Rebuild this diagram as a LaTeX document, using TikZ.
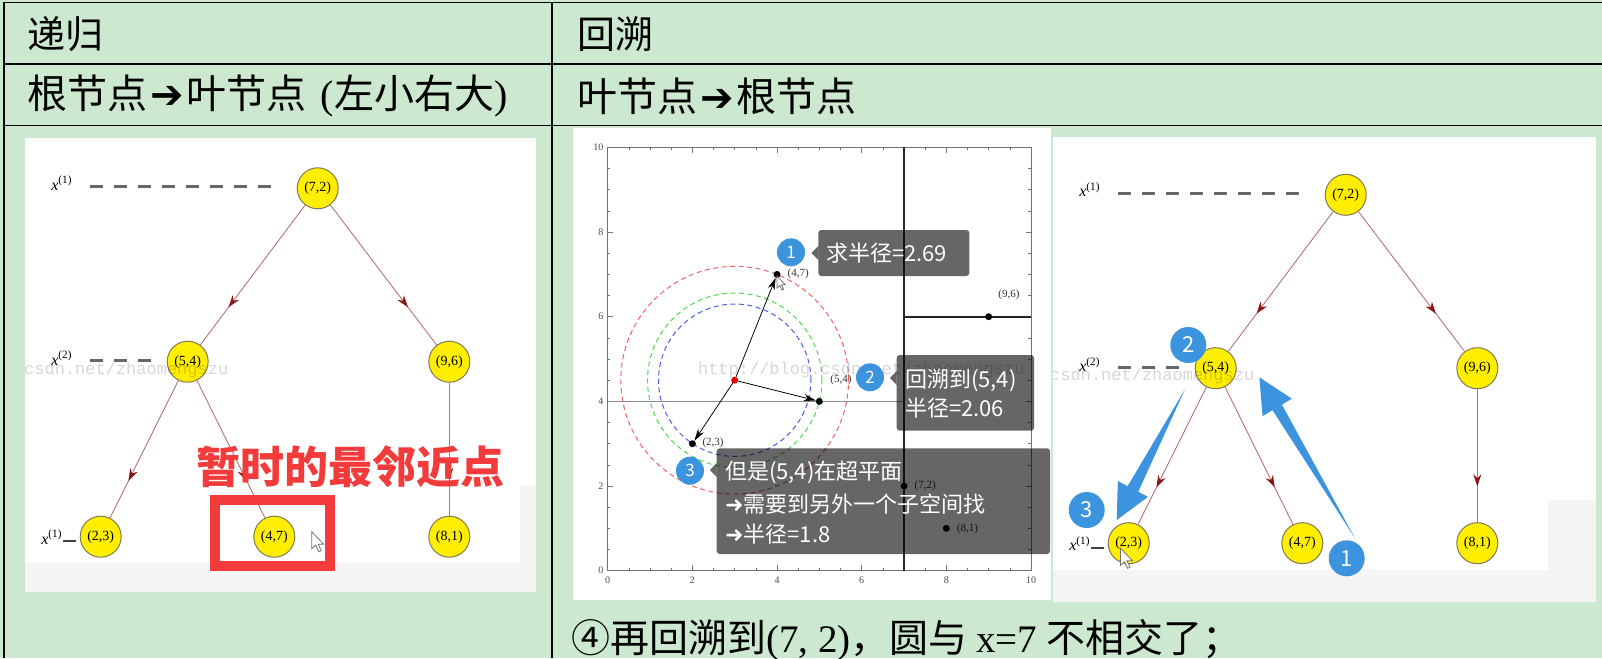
\documentclass[tikz,border=0pt]{standalone}
\usepackage{fontspec}
\setmainfont{Liberation Serif}
\newfontfamily\cjk{Noto Sans CJK SC}
\newfontfamily\djv{DejaVu Sans}
\newfontfamily\monof{Liberation Mono}
\usetikzlibrary{arrows.meta,decorations.markings}

\definecolor{tblgreen}{HTML}{CCE8CF}
\definecolor{nodeyellow}{HTML}{FFEE00}
\definecolor{nodeborder}{HTML}{7F7A55}
\definecolor{edgecol}{HTML}{B87470}
\definecolor{arrowred}{HTML}{8B1414}
\definecolor{hotred}{HTML}{F33B3B}
\definecolor{bubble}{HTML}{3C94DE}
\definecolor{graybg}{HTML}{F5F5F5}
\definecolor{cred}{HTML}{F06464}
\definecolor{cgreen}{HTML}{55D655}
\definecolor{cblue}{HTML}{4A5EE6}

\newcommand\kdtree[1]{%
  \node[kd] (#1a) at (317.7,188.3) {(7,2)};
  \node[kd] (#1b) at (187.7,361.7) {(5,4)};
  \node[kd] (#1c) at (449.3,361.7) {(9,6)};
  \node[kd] (#1d) at (100.7,536.7) {(2,3)};
  \node[kd] (#1e) at (274.3,536.7) {(4,7)};
  \node[kd] (#1f) at (449.3,536.7) {(8,1)};
  \draw[kdedge] (#1a) -- (#1b);
  \draw[kdedge] (#1a) -- (#1c);
  \draw[kdedge] (#1b) -- (#1d);
  \draw[kdedge] (#1b) -- (#1e);
  \draw[kdedge] (#1c) -- (#1f);
  \node[xlab] (#1l1) at (61.7,183) {{\itshape x}\textsuperscript{(1)}};
  \draw[levdash] (90,186.7) -- (275,186.7);
  \node[xlab] (#1l2) at (61.7,358) {{\itshape x}\textsuperscript{(2)}};
  \draw[levdash] (90,360.7) -- (152,360.7);
  \node[xlab] (#1l3) at (51.7,537) {{\itshape x}\textsuperscript{(1)}};
  \draw[line width=2pt, black!75] (63,541) -- (76,541);
}
\newcommand\mousecur[2]{%
  \draw[fill=white, draw=black!55, line width=0.8pt, shift={(#1)}, scale=#2]
    (0,0) -- (0,17) -- (4,13.5) -- (7,20) -- (9.5,19) -- (6.5,12.5) -- (12,12.5) -- cycle;}

\begin{document}
\begin{tikzpicture}[x=1pt,y=-1pt,
  kd/.style={circle, fill=nodeyellow, draw=nodeborder, line width=1pt, minimum size=41pt, inner sep=0pt, font=\fontsize{14}{14}\selectfont},
  kdedge/.style={draw=edgecol, line width=0.9pt, postaction={decorate},
     decoration={markings, mark=at position 0.73 with {\arrow{Stealth[length=12pt,width=8pt,color=arrowred]}}}},
  levdash/.style={draw=black!60, line width=3pt, dash pattern=on 13pt off 11pt},
  xlab/.style={inner sep=0pt, font=\fontsize{16}{16}\selectfont},
  wm/.style={inner sep=0pt, font=\monof\fontsize{17}{17}\selectfont, text=black, text opacity=0.16},
  hdr/.style={inner sep=0pt, anchor=west, font=\cjk\fontsize{38}{40}\selectfont},
  hdrb/.style={inner sep=0pt, anchor=west, font=\cjk\fontsize{40}{42}\selectfont},
  ticklab/.style={inner sep=0pt, font=\fontsize{10}{10}\selectfont, text=black!70},
  plab/.style={inner sep=0pt, font=\fontsize{11}{11}\selectfont, text=black!80},
  pt/.style={circle, fill=black, minimum size=7pt, inner sep=0pt},
  dcirc/.style={line width=1pt, dash pattern=on 5pt off 3.5pt},
  callout/.style={fill=black, fill opacity=0.6},
  ctext/.style={inner sep=0pt, anchor=west, text=white, font=\cjk\fontsize{22}{26}\selectfont},
  bub/.style={circle, fill=bubble, inner sep=0pt, text=white, font=\cjk\fontsize{#1}{#1}\selectfont},
  bluearrow/.style={fill=bubble}
]
\useasboundingbox (0,0) rectangle (1602,658);
\fill[tblgreen] (0,0) rectangle (1602,658);

% table rules
\draw[line width=1.5pt] (4,2.5) -- (1602,2.5);
\draw[line width=1.5pt] (4,64) -- (1602,64);
\draw[line width=1.5pt] (4,125.5) -- (1602,125.5);
\draw[line width=1.5pt] (4,2.5) -- (4,658);
\draw[line width=1.5pt] (552,2.5) -- (552,658);

% header texts
\node[hdr] (h1) at (27,34) {递归};
\node[hdr] (h2) at (577,34) {回溯};
\node[hdrb] (r1) at (27,96) {根节点\hspace{3pt}{\djv ➔}\hspace{3pt}叶节点\hspace{14pt}{\rmfamily(}左小右大{\rmfamily)}};
\node[hdrb] (r2) at (577,96) {叶节点\hspace{3pt}{\djv ➔}\hspace{3pt}根节点};
\node[inner sep=0pt, anchor=west, font=\cjk\fontsize{39}{41}\selectfont] (bt) at (571,640) {④再回溯到{\rmfamily(7, 2)}，圆与 {\rmfamily x=7} 不相交了；};

% ---------- left image ----------
\fill[white] (25,138) rectangle (536,592);
\fill[graybg] (25,563) rectangle (536,592);
\fill[graybg] (520,485) rectangle (536,563);
\kdtree{L}
\begin{scope}
  \clip (25,138) rectangle (536,592);
  \node[wm, anchor=west] (Lwm) at (24,370) {csdn.net/zhaomengszu};
\end{scope}
\node[inner sep=0pt, text=hotred, font=\cjk\bfseries\fontsize{44}{44}\selectfont] (tmp) at (350,466.7) {暂时的最邻近点};
\draw[hotred, line width=10pt] (215,500) rectangle (330,565.7);
\mousecur{311.7,531.7}{1}

% ---------- plot image ----------
\fill[white] (573,128) rectangle (1051,600);
\begin{scope}[shift={(607.7,570.7)}, x=42.33pt, y=42.33pt]
  \draw[black!55, line width=0.8pt] (0,0) rectangle (10,10);
  \foreach \i in {1,...,19} {
    \pgfmathsetmacro\t{\i/2}
    \draw[black!55, line width=0.6pt] (\t,0) -- (\t,0.06) (\t,10) -- (\t,9.94) (0,\t) -- (0.06,\t) (10,\t) -- (9.94,\t);
  }
  \foreach \v in {2,4,6,8} {
    \draw[black!55, line width=0.7pt] (\v,0) -- (\v,0.13) (\v,10) -- (\v,9.87) (0,\v) -- (0.13,\v) (10,\v) -- (9.87,\v);
  }
  \foreach \v in {0,2,4,6,8,10} {
    \node[ticklab, anchor=east] (yt\v) at (-0.1,\v) {\v};
    \node[ticklab, anchor=north] (xt\v) at (\v,-0.15) {\v};
  }
  \draw[black!45, line width=1.4pt] (0,4) -- (7,4);
  \draw[black!85, line width=1.8pt] (7,0) -- (7,10);
  \draw[black!85, line width=1.8pt] (7,6) -- (10,6);
  \draw[cred, dcirc] (3,4.5) circle[radius=2.69];
  \draw[cgreen, dcirc] (3,4.5) circle[radius=2.06];
  \draw[cblue, dcirc] (3,4.5) circle[radius=1.8];
  \node[wm, anchor=west] (Pwm) at (2.13,4.74) {http://blog.csdn.net/zhaomengszu};
  \node[pt] (p23) at (2,3) {};
  \node[pt] (p54) at (5,4) {};
  \node[pt] (p47) at (4,7) {};
  \node[pt] (p96) at (9,6) {};
  \node[pt] (p72) at (7,2) {};
  \node[pt] (p81) at (8,1) {};
  \node[pt, fill=red!90!black] (pc) at (3,4.5) {};
  \draw[-{Stealth[length=12pt,width=7pt]}, line width=0.8pt] (pc) -- (p47);
  \draw[-{Stealth[length=12pt,width=7pt]}, line width=0.8pt] (pc) -- (p54);
  \draw[-{Stealth[length=12pt,width=7pt]}, line width=0.8pt] (pc) -- (p23);
  \node[plab] (l47) at (4.5,7.01) {(4,7)};
  \node[plab] (l54) at (5.51,4.52) {(5,4)};
  \node[plab] (l23) at (2.49,3.01) {(2,3)};
  \node[plab] (l96) at (9.48,6.51) {(9,6)};
  \node[plab] (l72) at (7.5,2.01) {(7,2)};
  \node[plab] (l81) at (8.5,1.0) {(8,1)};
\end{scope}
\mousecur{777,276}{0.7}

% callouts
\fill[callout, rounded corners=3pt] (818.3,230) rectangle (969.3,276);
\fill[callout] (818.3,246) -- (811.5,253) -- (818.3,260) -- cycle;
\node[ctext] (c1) at (826,253) {求半径=2.69};
\node[bub=17, minimum size=28pt] (b1) at (791,252.3) {1};

\fill[callout, rounded corners=3pt] (896.7,355) rectangle (1034,430.7);
\fill[callout] (896.7,371) -- (890,378) -- (896.7,385) -- cycle;
\node[ctext] (c2a) at (905,380.3) {回溯到(5,4)};
\node[ctext] (c2b) at (905,408.3) {半径=2.06};
\node[bub=17, minimum size=28pt] (b2) at (870,377.3) {2};

\fill[callout, rounded corners=3pt] (716.7,448.3) rectangle (1050,554);
\fill[callout] (716.7,463) -- (710,470) -- (716.7,477) -- cycle;
\node[ctext] (c3a) at (725,472.7) {但是(5,4)在超平面};
\node[ctext] (c3b) at (725,504) {{\djv ➜}需要到另外一个子空间找};
\node[ctext] (c3c) at (725,534) {{\djv ➜}半径=1.8};
\node[bub=17, minimum size=28pt] (b3) at (690,470.7) {3};

% ---------- right image ----------
\fill[white] (1053,137) rectangle (1596,602);
\fill[graybg] (1053,570) rectangle (1596,602);
\fill[graybg] (1548,500) rectangle (1596,570);
\begin{scope}[shift={(1028,6.5)}]
  \kdtree{R}
  \begin{scope}
    \clip (25,131) rectangle (568,595);
    \node[wm, anchor=west] (Rwm) at (22,370) {csdn.net/zhaomengszu};
  \end{scope}
\end{scope}
% blue arrows
\fill[bluearrow] (1355,538.3) -- (1281.9,404.6) -- (1291.8,398.7) -- (1259.3,377.3) -- (1262.6,416.1) -- (1272.5,410.2) -- cycle;
\fill[bluearrow] (1185,389.3) -- (1138.2,491.8) -- (1148,496.9) -- (1116.7,520) -- (1117.8,481.1) -- (1127.6,486.2) -- cycle;
\node[bub=22, minimum size=36pt] (rb2) at (1188.3,345) {2};
\node[bub=22, minimum size=36pt] (rb3) at (1086.7,510) {3};
\node[bub=22, minimum size=36pt] (rb1) at (1346.7,558.3) {1};
\mousecur{1120.5,548.3}{1}
\end{tikzpicture}
\end{document}
